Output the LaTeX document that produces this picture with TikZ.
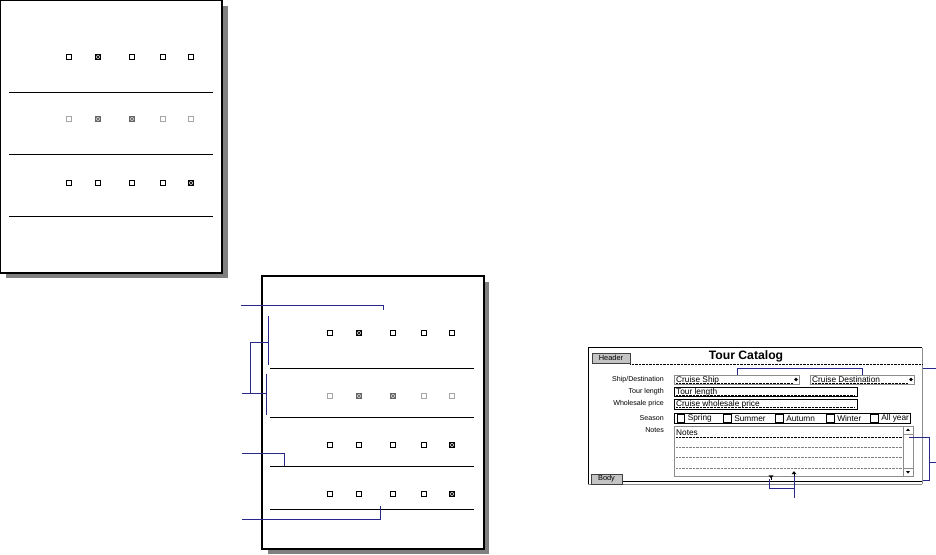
\documentclass[tikz,border=0pt]{standalone}
\usepackage{fontspec}
\setmainfont{Liberation Sans}
\usetikzlibrary{shapes.geometric}
\definecolor{callout}{RGB}{40,40,140}
\definecolor{shadowgray}{RGB}{128,128,128}
\definecolor{tabgray}{RGB}{196,196,196}
\definecolor{boxgray}{RGB}{140,140,140}
\tikzset{
  pagebox/.style={draw=black,line width=1.1pt,fill=white},
  pshadow/.style={fill=shadowgray,draw=none},
  rowrule/.style={line width=0.9pt},
  cbx/.style={draw=black,line width=0.9pt,minimum size=5pt,inner sep=0pt,fill=white},
  cbxon/.style={cbx,fill=gray!45,path picture={\draw[line width=0.6pt]
     (path picture bounding box.south west)--(path picture bounding box.north east)
     (path picture bounding box.north west)--(path picture bounding box.south east);}},
  cbxg/.style={cbx,draw=gray!70},
  cbxgon/.style={cbxon,draw=gray!80!black},
  co/.style={draw=callout,line width=0.8pt},
  lbl/.style={anchor=east,inner sep=0pt,font=\fontsize{7.1}{8}\selectfont},
  fld/.style={anchor=base west,inner sep=0pt,font=\fontsize{8.3}{9}\selectfont},
  fbox/.style={draw=black,line width=0.6pt},
  gbox/.style={draw=boxgray,line width=0.6pt},
  dots/.style={densely dotted,line width=0.4pt},
  tab/.style={fill=tabgray,draw=black!75,line width=0.6pt,inner sep=0pt,
     font=\fontsize{7.4}{8}\selectfont},
  scb/.style={draw=black,line width=0.7pt,minimum size=7.5pt,inner sep=0pt,fill=white},
  blk/.style={fill=black,inner sep=0pt},
}
\begin{document}
\begin{tikzpicture}[x=1pt,y=-1pt]
\useasboundingbox (0,0) rectangle (936,554);

% ---------- page 1 ----------
\fill[pshadow] (6,6) rectangle (228,278);
\draw[pagebox] (0.6,0.6) rectangle (222,273);
\foreach \yy in {92,154,216} \draw[rowrule] (9,\yy) -- (213,\yy);
\foreach \xx/\i in {69/1,98/2,132/3,163/4,191/5} {
  \node[cbx] (pa\i) at (\xx,57) {};
  \node[cbxg] (pb\i) at (\xx,119) {};
  \node[cbx] (pc\i) at (\xx,183) {};
}
\node[cbxon] (pa2x) at (98,57) {};
\node[cbxgon] (pb2x) at (98,119) {};
\node[cbxgon] (pb3x) at (132,119) {};
\node[cbxon] (pc5x) at (191,183) {};

% ---------- page 2 ----------
\fill[pshadow] (268,282) rectangle (489,554);
\draw[pagebox] (262,276) rectangle (484,549);
\foreach \yy in {368,417,466,509} \draw[rowrule] (270,\yy) -- (474,\yy);
\foreach \xx/\i in {330/1,359/2,393/3,424/4,452/5} {
  \node[cbx] (qa\i) at (\xx,333) {};
  \node[cbxg] (qb\i) at (\xx,396) {};
  \node[cbx] (qc\i) at (\xx,445) {};
  \node[cbx] (qd\i) at (\xx,494) {};
}
\node[cbxon] (qa2x) at (359,333) {};
\node[cbxgon] (qb2x) at (359,396) {};
\node[cbxgon] (qb3x) at (393,396) {};
\node[cbxon] (qc5x) at (452,445) {};
\node[cbxon] (qd5x) at (452,494) {};

% callouts, page 2
\coordinate (c1a) at (241,305); \coordinate (c1b) at (383,305); \coordinate (c1c) at (383,310);
\draw[co] (c1a) -- (c1b) -- (c1c);
\coordinate (v1t) at (268,316); \coordinate (v1b) at (268,365);
\coordinate (v2t) at (266,374); \coordinate (v2b) at (266,415);
\draw[co] (v1t) -- (v1b);
\draw[co] (v2t) -- (v2b);
\coordinate (brt) at (250,342); \coordinate (brb) at (250,393); \coordinate (bro) at (242,393);
\draw[co] (v1t |- brt) -- (brt) -- (brb) -- (v2t |- brb);
\draw[co] (bro) -- (brb);
\coordinate (c3a) at (242,453); \coordinate (c3b) at (284,453); \coordinate (c3c) at (284,466);
\draw[co] (c3a) -- (c3b) -- (c3c);
\coordinate (c4a) at (242,519); \coordinate (c4b) at (380,519); \coordinate (c4c) at (380,506);
\draw[co] (c4a) -- (c4b) -- (c4c);

% ---------- form ----------
\coordinate (fr1) at (923,368); \coordinate (fr2) at (936,368);
\draw[co] (fr1) -- (fr2);
\draw[line width=0.9pt] (588,484) -- (588,347.5) -- (922,347.5);
\draw[boxgray,line width=0.7pt] (922,347.5) -- (922,484);
\node[tab,minimum width=38pt,minimum height=10pt] (hdr) at (611,358) {Header};
\draw[dots] (hdr.east |- 0,364) -- (922,364);
\node[inner sep=0pt,font=\fontsize{12.2}{13}\selectfont\bfseries] (title) at (746,356) {Tour Catalog};

\node[lbl] (l1) at (664,379.5) {Ship/Destination};
\node[lbl] (l2) at (664,392) {Tour length};
\node[lbl] (l3) at (664,404) {Wholesale price};
\node[lbl] (l4) at (664,418.5) {Season};
\node[lbl] (l5) at (664,430) {Notes};

% Cruise ship
\draw[gbox] (674,375) rectangle (799,384.5);
\draw[dots] (676,383) -- (793,383);
\node[fld] (cs) at (676,382) {Cruise Ship};
\node[blk,diamond,minimum size=4pt] (csm) at (796,379.5) {};
% Cruise destination
\draw[gbox] (810,375) rectangle (914,384.5);
\draw[dots] (812,383) -- (908,383);
\node[fld] (cd) at (812,382) {Cruise Destination};
\node[blk,diamond,minimum size=4pt] (cdm) at (911,379.5) {};
% tour length
\draw[fbox] (674,387.5) rectangle (857,396.5);
\draw[dots] (676,395) -- (855,395);
\node[fld] (tl) at (676,394.3) {Tour length};
% wholesale
\draw[fbox] (674,399.5) rectangle (857,409);
\draw[dots] (676,407.5) -- (855,407.5);
\node[fld] (wp) at (676,406.8) {Cruise wholesale price};
% season
\draw[fbox] (674,413) rectangle (910,423.5);
\foreach \xx/\t/\n in {681/Spring/s1,727.5/Summer/s2,779.5/Autumn/s3,830.5/Winter/s4,874.5/All year/s5} {
  \node[scb] (\n) at (\xx,418.3) {};
  \node[fld,anchor=west] (\n t) at ([xshift=2.5pt]\n.east) {\t};
}
% notes
\draw[gbox] (674,426) rectangle (913,476);
\node[fld] (nt) at (676,435) {Notes};
\draw[dots] (676,437) -- (902,437);
\foreach \yy in {447,457,468} \draw[dots,gray] (676,\yy) -- (902,\yy);
\draw[boxgray,line width=0.6pt] (903,426) -- (903,476);
\draw[boxgray,line width=0.6pt] (903,434) -- (913,434) (903,468) -- (913,468);
\node[blk,isosceles triangle,shape border rotate=90,minimum width=4pt,minimum height=2.5pt,isosceles triangle stretches] (up) at (908,430) {};
\node[blk,isosceles triangle,shape border rotate=-90,minimum width=4pt,minimum height=2.5pt,isosceles triangle stretches] (dn) at (908,472) {};

% body
\draw[boxgray,line width=0.6pt] (588,484.5) -- (922,484.5);
\draw[line width=1.1pt] (622,481.5) -- (922,481.5);
\node[tab,minimum width=31pt,minimum height=10pt] (body) at (606.5,479) {Body};

% markers
\node[blk,isosceles triangle,shape border rotate=-90,minimum width=5pt,minimum height=3pt,isosceles triangle stretches] (mk1) at (771,476.5) {};
\draw[line width=1pt] (mk1.center) -- ++(0,3);
\node[blk,isosceles triangle,shape border rotate=90,minimum width=5pt,minimum height=3pt,isosceles triangle stretches] (mk2) at (794,473) {};
\draw[line width=1pt] (mk2.center) -- ++(0,3);

% callouts, form
\coordinate (a1) at (737,375); \coordinate (a2) at (737,368);
\coordinate (a3) at (862,368); \coordinate (a4) at (862,375);
\draw[co] (a1) -- (a2) -- (a3) -- (a4);
\coordinate (b1) at (909,437); \coordinate (b2) at (929,437);
\coordinate (b3) at (929,480); \coordinate (b4) at (922.5,480);
\coordinate (b5) at (936,462);
\draw[co] (b1) -- (b2) -- (b3) -- (b4);
\draw[co] (b2 |- b5) -- (b5);
\coordinate (d1) at (769,479); \coordinate (d2) at (769,488);
\coordinate (d3) at (794,488); \coordinate (d4) at (794,476); \coordinate (d5) at (794,498);
\draw[co] (d1) -- (d2) -- (d3);
\draw[co] (d4) -- (d5);
\end{tikzpicture}
\end{document}
